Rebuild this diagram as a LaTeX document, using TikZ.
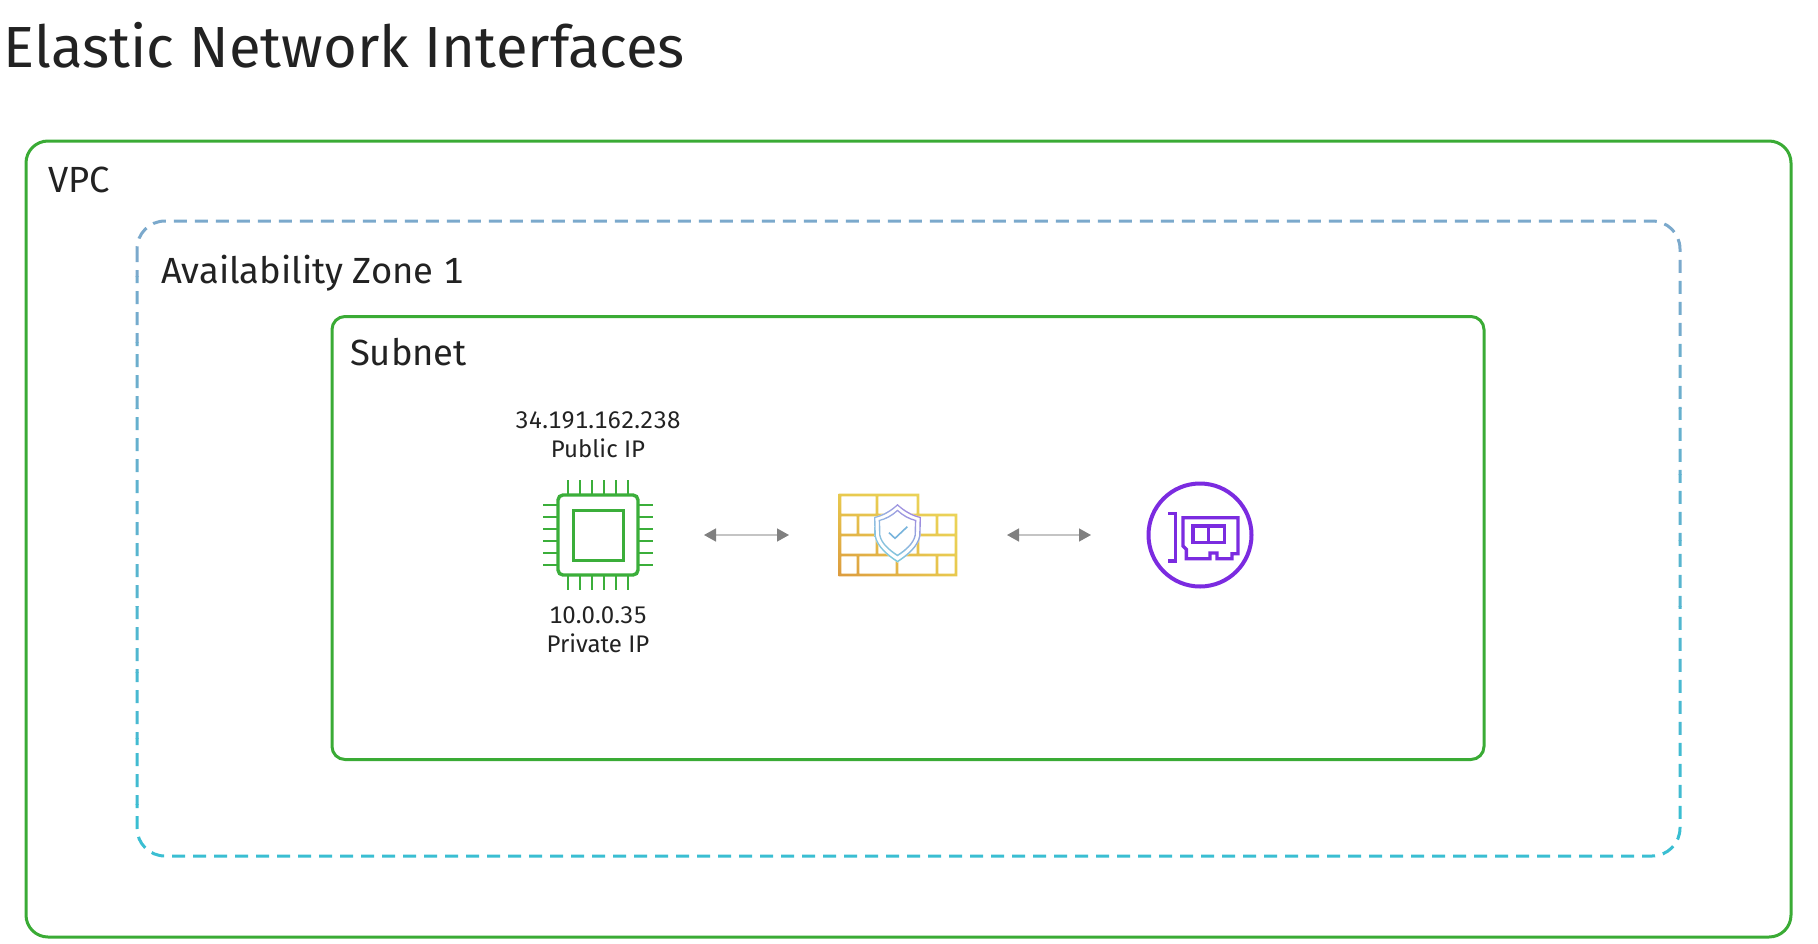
\documentclass[tikz,border=0pt]{standalone}
\usepackage{fontspec}
\setmainfont{Fira Sans}[Numbers=Monospaced]
\usepackage{xcolor}
\usepackage{tikz}
\usetikzlibrary{positioning,arrows.meta,shadings}

\definecolor{boxgreen}{HTML}{3AAB35}
\definecolor{chipgreen}{HTML}{3BAE3A}
\definecolor{zonetop}{HTML}{7BA9CC}
\definecolor{zonebot}{HTML}{39BED2}
\definecolor{enipurple}{HTML}{7B2BE0}
\definecolor{inktext}{HTML}{222222}
\definecolor{arrowline}{HTML}{C4C4C4}
\definecolor{arrowtip}{HTML}{808080}
\definecolor{brickll}{HTML}{DC9B3E}
\definecolor{brickmid}{HTML}{E8C94E}
\definecolor{brickur}{HTML}{ECD75C}
\definecolor{shieldll}{HTML}{7CD2DA}
\definecolor{shieldlr}{HTML}{86C6E0}
\definecolor{shieldul}{HTML}{98B4E4}
\definecolor{shieldur}{HTML}{A874DE}
\definecolor{shieldtick}{HTML}{78B4DC}

\newcommand{\brickhole}[4]{(#1+1.3,#2+1.3) rectangle (#3-1.3,#4-1.3)}
\newcommand{\shieldring}[1]{(0,#1*-28) .. controls (#1*7,#1*-21.5) and (#1*15,#1*-17) .. (#1*23.5,#1*-15)
    -- (#1*23,#1*4) .. controls (#1*21,#1*15) and (#1*10,#1*24) .. (0,#1*30.5)
    .. controls (#1*-10,#1*24) and (#1*-21,#1*15) .. (#1*-23,#1*4)
    -- (#1*-23.5,#1*-15) .. controls (#1*-15,#1*-17) and (#1*-7,#1*-21.5) .. (0,#1*-28) -- cycle}

\begin{document}
\begin{tikzpicture}[x=1pt, y=-1pt,
        textsize/.style = {font=\fontsize{#1}{#1}\selectfont, text=inktext, inner sep=0pt, outer sep=0pt},
    ]
    \tikzstyle{greenbox} = [draw=boxgreen, line width=3pt, inner sep=0pt, outer sep=0pt];
    \tikzstyle{boxlabel} = [textsize=36.4, anchor=base west];
    \tikzstyle{iplabel} = [textsize=24, align=center];
    \tikzstyle{iconnode} = [inner sep=0pt, outer sep=0pt];
    \tikzstyle{biarrow} = [draw=arrowline, line width=1.5pt, shorten <=51pt, shorten >=51pt,
        {Triangle[length=12pt,width=13pt,color=arrowtip]}-{Triangle[length=12pt,width=13pt,color=arrowtip]}];
    \useasboundingbox (0,0) rectangle (1818,943);

    \node [textsize=58, anchor=base west] (title) at (4,67) {Elastic Network Interfaces};

    % outer boxes
    \node [greenbox, rounded corners=22pt, minimum width=1765pt, minimum height=796pt] (vpc) at (908.5,539) {};
    \foreach \i in {0,...,9} {
        \pgfmathtruncatemacro{\mixval}{100-\i*11}
        \begin{scope}
            \clip (120,{210+\i*66}) rectangle (1690,{210+(\i+1)*66});
            \draw [zonetop!\mixval!zonebot, line width=3pt, dash pattern=on 13pt off 8pt, rounded corners=28pt]
                (137,221) rectangle (1680,856);
        \end{scope}
    }
    \node [greenbox, rounded corners=13pt, minimum width=1152pt, minimum height=443pt] (subnet) at (908,538) {};

    \node [boxlabel] (vpctext) at (48,192) {VPC};
    \node [boxlabel] (zonetext) at (161,283) {Availability Zone 1};
    \node [boxlabel] (subnettext) at (350,365) {Subnet};

    % the three icons
    \node [iconnode, minimum width=110pt, minimum height=110pt] (chip) at (598,535) {};
    \node [iconnode, minimum width=116pt, minimum height=80pt] (wall) at (898,535) {};
    \node [iconnode, minimum size=116pt] (eni) at (1200,535) {};

    \node [iplabel, above = 22pt of chip] (publicip) {34.191.162.238\\[5pt]Public IP};
    \node [iplabel, below = 17pt of chip] (privateip) {10.0.0.35\\[5pt]Private IP};

    \draw [biarrow] (chip) -- (wall);
    \draw [biarrow] (wall) -- (eni);

    % chip
    \begin{scope}[shift={(chip.center)}]
        \draw [chipgreen, line width=3.4pt, rounded corners=5pt] (-40,-40) rectangle (40,40);
        \draw [chipgreen, line width=3pt] (-25,-25) rectangle (25,25);
        \foreach \p in {-30,-18,-6,6,18,30} {
            \draw [chipgreen, line width=2.6pt] (\p,-40) -- (\p,-55);
            \draw [chipgreen, line width=2.6pt] (\p,40) -- (\p,55);
            \draw [chipgreen, line width=2.6pt] (-40,\p) -- (-55,\p);
            \draw [chipgreen, line width=2.6pt] (40,\p) -- (55,\p);
        }
    \end{scope}

    % brick wall
    \shade [even odd rule, lower left=brickll, lower right=brickmid, upper left=brickmid, upper right=brickur]
        (838.7,493.7) -- (919.3,493.7) -- (919.3,513.7) -- (957.3,513.7) -- (957.3,576.3) -- (838.7,576.3) -- cycle
        \brickhole{840}{495}{877}{515} \brickhole{877}{495}{918}{515}
        \brickhole{840}{515}{858}{535} \brickhole{858}{515}{877}{535} \brickhole{877}{515}{918}{535}
        \brickhole{918}{515}{937}{535} \brickhole{937}{515}{956}{535}
        \brickhole{840}{535}{877}{555} \brickhole{877}{535}{918}{555} \brickhole{918}{535}{956}{555}
        \brickhole{840}{555}{858}{575} \brickhole{858}{555}{897}{575} \brickhole{897}{555}{937}{575}
        \brickhole{937}{555}{956}{575};

    % shield
    \begin{scope}[shift={(897.5,532)}]
        \fill [white] \shieldring{1};
        \shade [even odd rule, lower left=shieldll, lower right=shieldlr, upper left=shieldul, upper right=shieldur]
            \shieldring{1} \shieldring{0.94} \shieldring{0.80} \shieldring{0.74};
        \draw [line width=1.6pt, shieldtick] (-8.5,0.7) -- (-2.5,6.3) -- (9.8,-5.3);
    \end{scope}

    % network card
    \begin{scope}[shift={(eni.center)}]
        \draw [enipurple, line width=4pt] (0,0) circle (51.5pt);
        \draw [enipurple, line width=3.4pt] (-32,-21.3) -- (-24.7,-21.3) -- (-24.7,26) -- (-32,26);
        \draw [enipurple, line width=3.4pt] (-17,-17.3) -- (38,-17.3) -- (38,18.7) -- (32,18.7) -- (32,23.7) -- (17,23.7)
            -- (17,18) -- (10,18) -- (10,23.7) -- (-13.7,23.7) -- (-13.7,14.3) -- (-17,11) -- cycle;
        \draw [enipurple, line width=3.4pt] (-7,-9) rectangle (24.7,7.7);
        \draw [enipurple, line width=3.4pt] (8.7,-9) -- (8.7,7.7);
    \end{scope}
\end{tikzpicture}
\end{document}
